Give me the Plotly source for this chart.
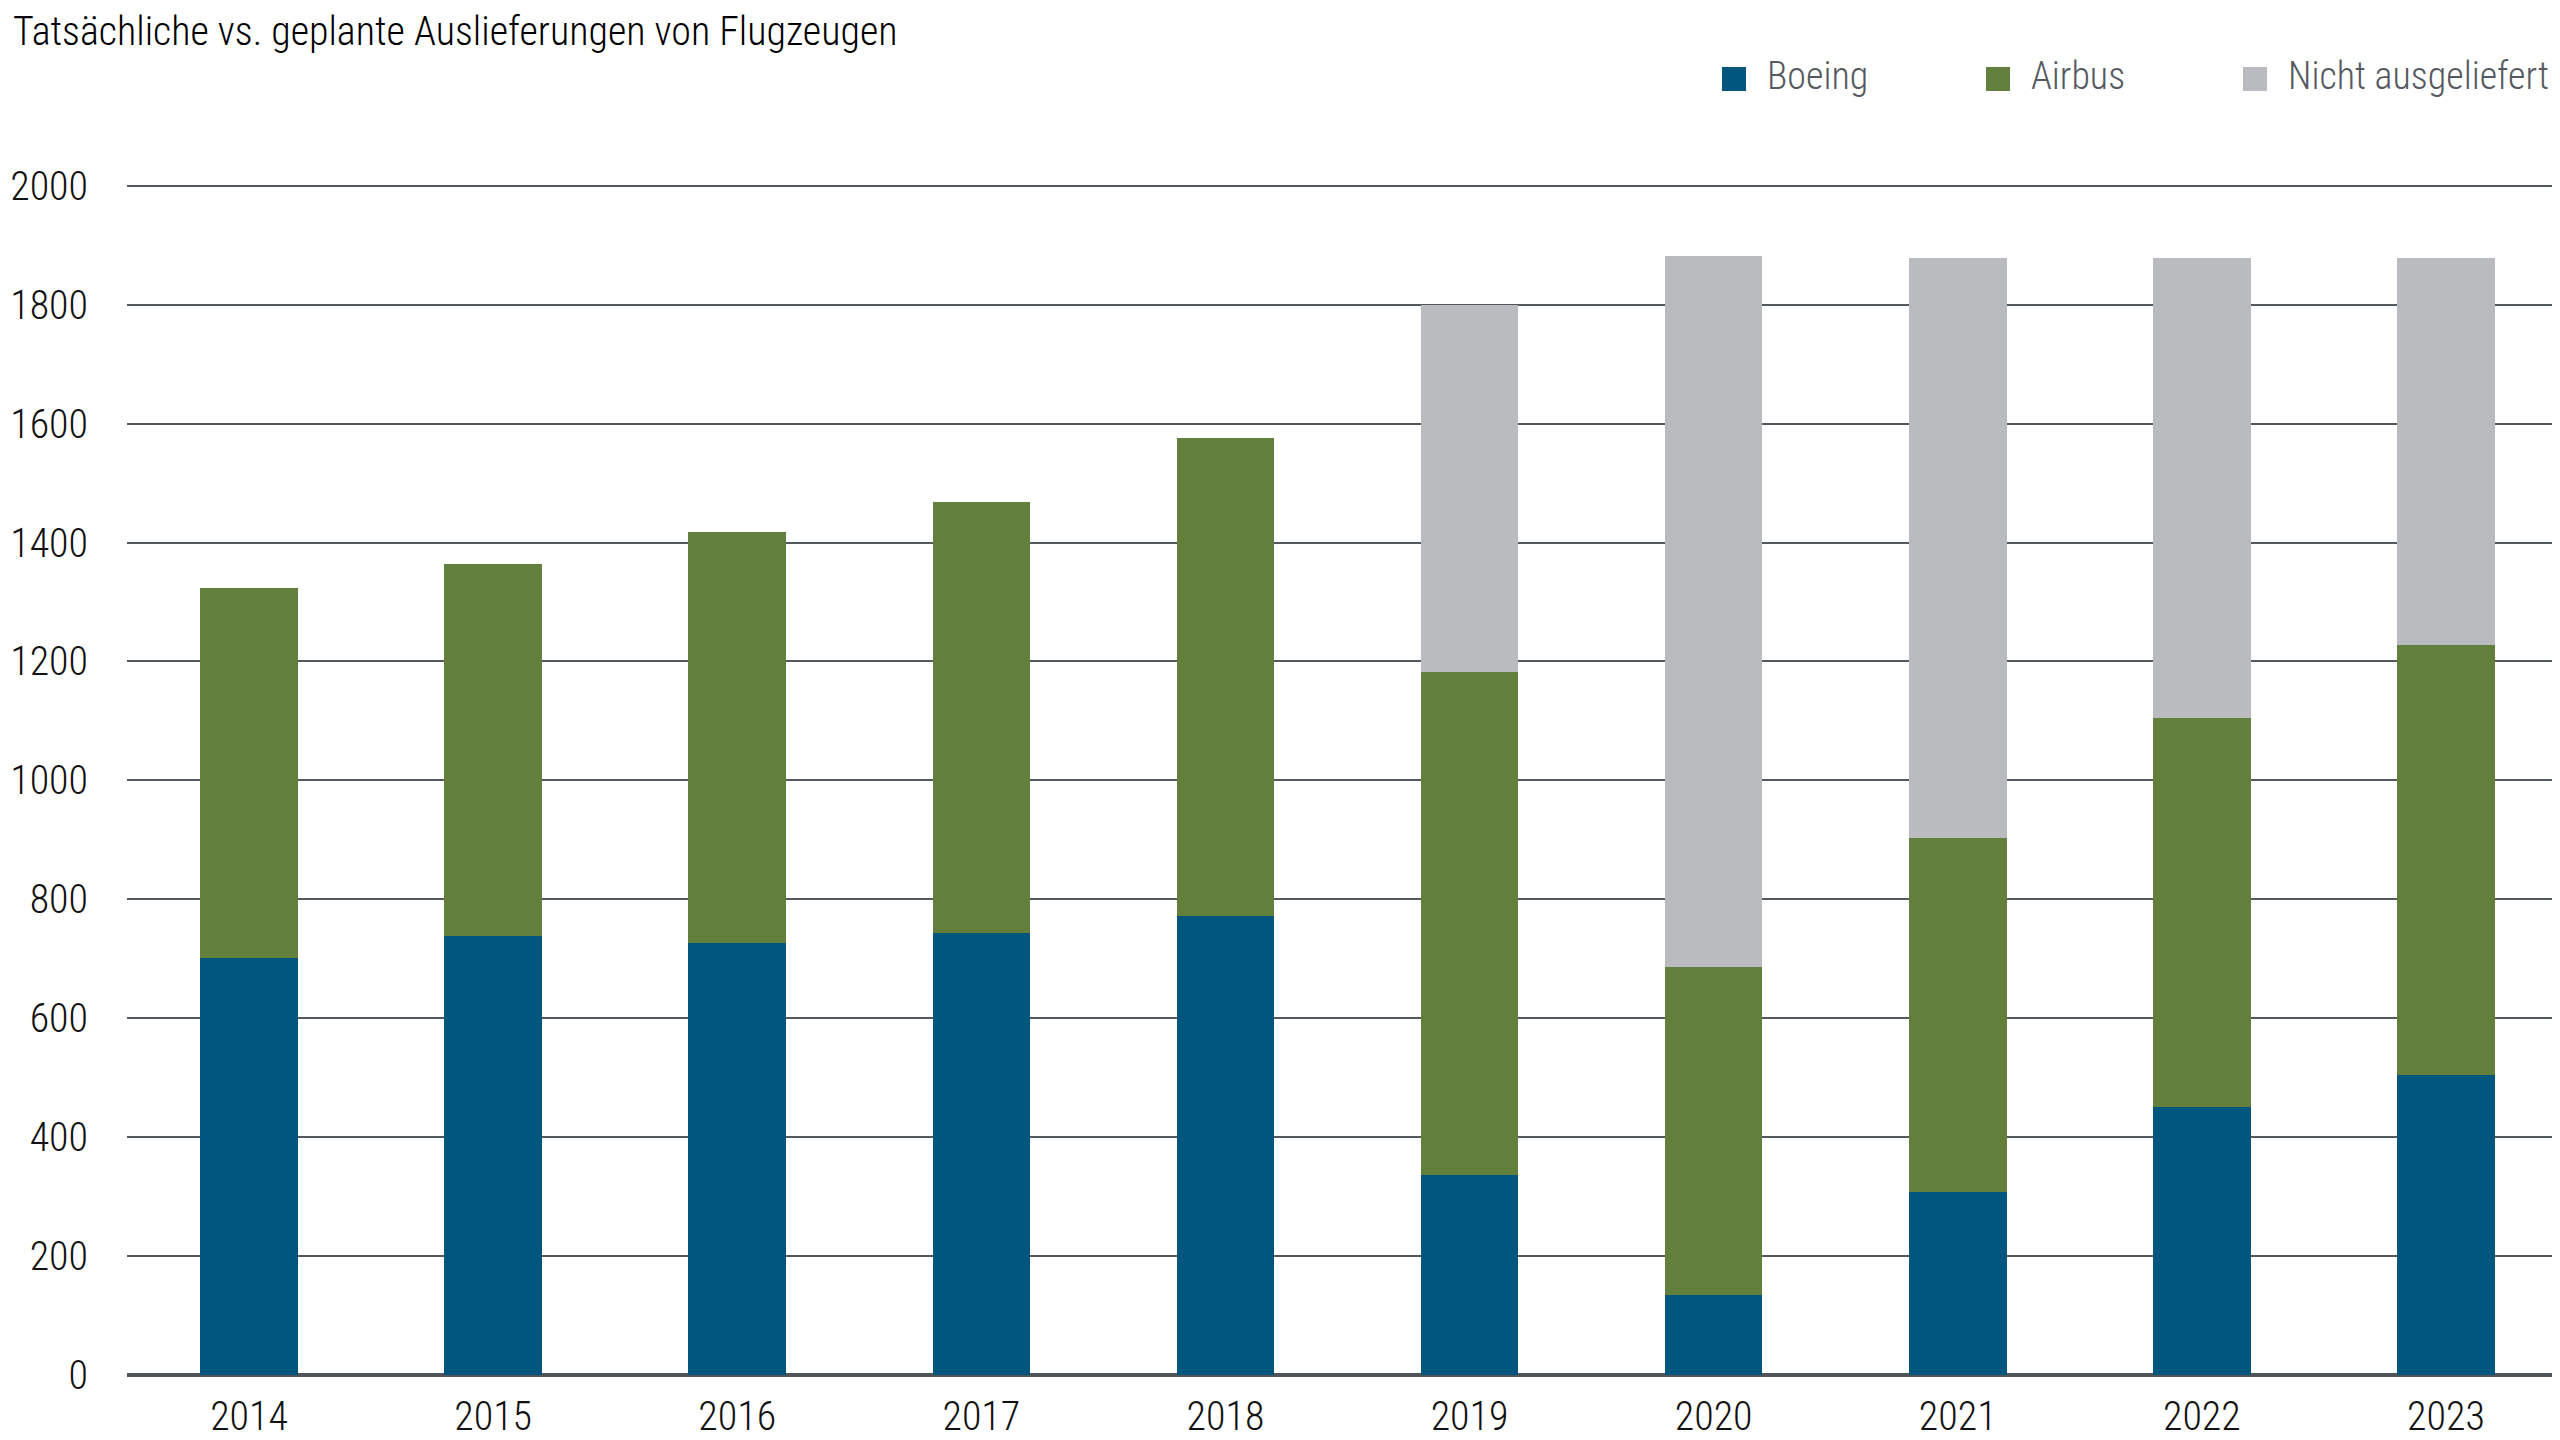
import plotly.graph_objects as go

years = ["2014", "2015", "2016", "2017", "2018", "2019", "2020", "2021", "2022", "2023"]
boeing = [701, 739, 727, 743, 772, 336, 134, 307, 451, 504]
airbus = [622, 625, 691, 725, 803, 847, 552, 596, 654, 724]
nicht_ausgeliefert = [0, 0, 0, 0, 0, 617, 1196, 975, 773, 650]

series_names = ["Boeing", "Airbus", "Nicht ausgeliefert"]
colors = ["#00567d", "#62803c", "#babbbe"]

W, H = 2560, 1440
ML, MR, MT, MB = 119, 0, 154, 73
FONT = "Roboto Condensed Light, Roboto Condensed, Liberation Sans Narrow, Arial Narrow, sans-serif"

fig = go.Figure()
for name, vals, col in zip(series_names, [boeing, airbus, nicht_ausgeliefert], colors):
    fig.add_trace(go.Bar(x=years, y=vals, name=name, marker_color=col,
                         marker_line_width=0, width=0.4, showlegend=False))

# legend drawn by hand so the squares match the big ones in the original
pw = W - ML - MR
ph = H - MT - MB
def px_x(p):
    return (p - ML) / pw
def px_y(p):
    return (H - MB - p) / ph

leg_y = 71
leg_sq = 24
leg_x = [1714, 1978, 2235]
for x0, name, col in zip(leg_x, series_names, colors):
    fig.add_shape(type="rect", xref="paper", yref="paper",
                  x0=px_x(x0), x1=px_x(x0 + leg_sq),
                  y0=px_y(leg_y + leg_sq / 2), y1=px_y(leg_y - leg_sq / 2),
                  fillcolor=col, line_width=0)
    fig.add_annotation(xref="paper", yref="paper", x=px_x(x0 + 43), y=px_y(leg_y - 3),
                       text=name, showarrow=False, xanchor="left", yanchor="middle",
                       font=dict(family=FONT, size=38, color="#55595f"))

fig.update_layout(
    width=W, height=H,
    margin=dict(l=ML, r=MR, t=MT, b=MB),
    barmode="stack",
    plot_bgcolor="white", paper_bgcolor="white",
    font=dict(family=FONT, size=40, color="#111111"),
    title=dict(text="Tatsächliche vs. geplante Auslieferungen von Flugzeugen",
               x=0.0, xref="container", xanchor="left",
               y=1.0, yref="container", yanchor="top",
               pad=dict(t=9, l=5),
               font=dict(family=FONT, size=40, color="#000000")),
)

fig.update_xaxes(type="category", showgrid=False, ticks="", showline=False,
                 ticklabelstandoff=14, tickfont=dict(size=40, color="#111111"))
fig.update_yaxes(range=[0, 2040], dtick=200, showgrid=True, gridcolor="#53575e",
                 gridwidth=2, zeroline=True, zerolinecolor="#50545b", zerolinewidth=4,
                 ticks="", showline=False, ticklabelstandoff=38,
                 tickfont=dict(size=40, color="#111111"))

fig.write_html("out.html")
